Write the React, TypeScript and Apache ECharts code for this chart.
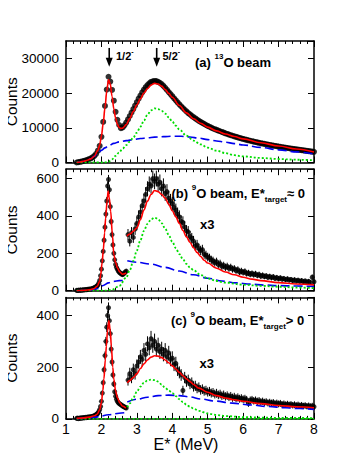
import React, { useEffect, useRef } from "react";
import * as echarts from "echarts";

const FONT = "'Liberation Sans', Arial, Helvetica, sans-serif";

// ---- axes ----
const X_MIN = 1;
const X_MAX = 8;
const Y_MAX = [35000, 650, 470];
const Y_INTERVAL = [10000, 200, 200];
const GRID_TOPS = [41, 169.2, 297.4];

// ---- panel (a): 13O beam ----
const A_X0 = 1.3;
const A_STEP = 0.05;
const A_COUNTS = [
  0, 100, 200, 300, 450, 600, 750, 950, 1200, 1500,
  1900, 2500, 3400, 4800, 7400, 11700, 16300, 21000, 24700, 23300,
  20900, 17800, 14600, 12300, 10800, 9900, 10100, 10700, 11500, 12400,
  13400, 14400, 15400, 16400, 17400, 18400, 19300, 20200, 21000, 21700,
  22300, 22800, 23200, 23400, 23500, 23450, 23250, 22950, 22550, 22050,
  21500, 20900, 20300, 19700, 19100, 18500, 17900, 17300, 16750, 16200,
  15700, 15200, 14700, 14250, 13850, 13450, 13050, 12700, 12350, 12000,
  11700, 11400, 11100, 10800, 10550, 10300, 10050, 9800, 9600, 9400,
  9200, 9000, 8800, 8600, 8400, 8220, 8040, 7870, 7700, 7540,
  7380, 7230, 7080, 6930, 6790, 6650, 6520, 6390, 6260, 6140,
  6020, 5900, 5790, 5680, 5570, 5460, 5360, 5260, 5160, 5060,
  4960, 4870, 4780, 4690, 4600, 4510, 4420, 4340, 4260, 4180,
  4100, 4020, 3940, 3860, 3780, 3700, 3630, 3560, 3490, 3420,
  3350, 3280, 3210, 3140, 3070,
];
const A_FIT = [
  [1.3, 0], [1.4, 150], [1.5, 350], [1.6, 650], [1.7, 1050], [1.8, 1800], [1.9, 3500],
  [1.95, 5000], [2.0, 7600], [2.05, 11300], [2.1, 15800], [2.15, 20500], [2.2, 23900],
  [2.25, 22600], [2.3, 19000], [2.35, 15500], [2.4, 12800], [2.45, 11000], [2.5, 10100],
  [2.55, 9800], [2.6, 9900], [2.7, 10900], [2.8, 12700], [2.9, 14700], [3.0, 16600],
  [3.1, 18400], [3.2, 20000], [3.3, 21300], [3.4, 22300], [3.5, 22800], [3.6, 22600],
  [3.7, 22000], [3.8, 21000], [3.9, 19900], [4.0, 18800], [4.2, 16400], [4.4, 14300],
  [4.6, 12600], [4.8, 11300], [5.0, 10200], [5.25, 9100], [5.5, 8200], [5.75, 7500],
  [6.0, 6800], [6.5, 5700], [7.0, 4750], [7.5, 3900], [8.0, 3050],
];
const A_GREEN = [
  [1.3, 0], [2.1, 0], [2.2, 200], [2.3, 900], [2.4, 1900], [2.5, 2900], [2.6, 4000],
  [2.7, 5000], [2.8, 6000], [2.9, 7200], [3.0, 8600], [3.1, 10300], [3.2, 12100],
  [3.3, 13800], [3.4, 15000], [3.5, 15600], [3.6, 15400], [3.7, 14900], [3.8, 14100],
  [3.9, 13000], [4.0, 11800], [4.1, 10600], [4.2, 9500], [4.4, 7700], [4.6, 6300],
  [4.8, 5200], [5.0, 4300], [5.25, 3400], [5.5, 2700], [5.75, 2100], [6.0, 1750],
  [6.5, 1300], [7.0, 1000], [7.5, 800], [8.0, 650],
];
const A_BLUE = [
  [1.3, 0], [1.5, 300], [1.7, 1100], [1.8, 1800], [1.9, 2700], [2.0, 3500], [2.1, 4200],
  [2.2, 4800], [2.35, 5500], [2.5, 5950], [2.7, 6300], [2.9, 6600], [3.1, 6900],
  [3.3, 7100], [3.5, 7300], [3.75, 7450], [4.0, 7550], [4.25, 7550], [4.5, 7350],
  [4.75, 7000], [5.0, 6600], [5.25, 6200], [5.5, 5850], [5.75, 5450], [6.0, 5050],
  [6.5, 4350], [7.0, 3650], [7.5, 3050], [8.0, 2450],
];
const ARROWS = [
  [2.22, 33000, 27600],
  [3.56, 33000, 27600],
];

// ---- panels (b) and (c): 9O beam ----
const PEAK_X0 = 1.3;
const PEAK_STEP = 0.025;
const TAIL_X0 = 2.75;
const TAIL_STEP = 0.05;
const TAIL_SCALE = 3;

const B_PEAK = [
  2, 1, 3, 2, 3, 2, 4, 3, 5, 4,
  6, 5, 7, 7, 8, 9, 8, 10, 12, 14,
  16, 18, 21, 25, 30, 40, 55, 80, 115, 160,
  210, 270, 340, 410, 480, 560, 595, 540, 450, 370,
  300, 245, 200, 165, 140, 125, 115, 106, 100, 95,
  92, 88, 86, 90, 95, 100, 105,
];
const B_TAIL = [
  300, 265, 310, 285, 330, 360, 395, 420, 455, 480,
  515, 545, 570, 560, 600, 585, 600, 570, 580, 545,
  560, 520, 530, 495, 480, 465, 445, 430, 410, 395,
  370, 365, 340, 320, 315, 290, 280, 265, 240, 245,
  225, 215, 220, 195, 190, 180, 175, 165, 160, 150,
  155, 140, 145, 130, 135, 125, 130, 120, 125, 115,
  118, 108, 112, 100, 105, 98, 102, 92, 95, 88,
  92, 86, 90, 82, 86, 78, 82, 76, 79, 72,
  76, 70, 74, 66, 70, 64, 68, 62, 65, 59,
  63, 57, 60, 54, 58, 52, 56, 50, 54, 48,
  52, 46, 50, 44, 72, 48,
];
const B_FIT1 = [
  [1.3, 0], [1.5, 2], [1.7, 6], [1.8, 12], [1.88, 24], [1.95, 50], [1.98, 86],
  [2.02, 150], [2.05, 211], [2.09, 310], [2.12, 390], [2.16, 480], [2.19, 533],
  [2.22, 500], [2.26, 426], [2.31, 300], [2.35, 193], [2.4, 150], [2.45, 122],
  [2.52, 100], [2.59, 88], [2.65, 90], [2.7, 95],
];
const B_FIT2 = [
  [2.72, 292], [2.8, 303], [2.9, 318], [3.0, 336], [3.1, 380], [3.2, 432], [3.3, 479],
  [3.4, 515], [3.5, 536], [3.6, 530], [3.7, 515], [3.8, 495], [3.9, 462], [4.0, 428],
  [4.1, 395], [4.2, 360], [4.3, 322], [4.4, 288], [4.5, 258], [4.6, 230], [4.7, 205],
  [4.8, 183], [4.9, 163], [5.0, 148], [5.25, 120], [5.5, 100], [5.75, 85], [6.0, 72],
  [6.25, 62], [6.5, 54], [7.0, 43], [7.5, 36], [8.0, 31],
];
const B_GREEN = [
  [1.3, 0], [2.1, 0], [2.3, 5], [2.5, 25], [2.7, 70], [2.8, 110], [2.9, 160],
  [3.0, 215], [3.1, 270], [3.2, 320], [3.3, 358], [3.4, 382], [3.5, 391], [3.6, 383],
  [3.7, 362], [3.8, 332], [3.9, 298], [4.0, 262], [4.1, 228], [4.2, 196], [4.3, 168],
  [4.4, 143], [4.5, 124], [4.6, 110], [4.8, 84], [5.0, 66], [5.25, 52], [5.5, 43],
  [6.0, 32], [6.5, 26], [7.0, 21], [7.5, 17], [8.0, 14],
];
const B_BLUE1 = [
  [1.3, 0], [1.7, 3], [1.9, 12], [2.05, 28], [2.2, 42], [2.35, 50], [2.5, 54], [2.7, 56],
];
const B_BLUE2 = [
  [2.73, 160], [3.0, 152], [3.4, 142], [3.8, 125], [4.2, 105], [4.6, 85], [5.0, 67],
  [5.4, 52], [5.8, 42], [6.2, 35], [6.6, 30], [7.0, 27], [7.5, 25], [8.0, 23],
];

const C_PEAK = [
  2, 3, 1, 3, 2, 4, 3, 4, 5, 4,
  6, 5, 7, 6, 8, 7, 8, 9, 10, 11,
  12, 14, 16, 19, 22, 28, 36, 48, 68, 100,
  140, 190, 245, 300, 355, 400, 430, 380, 330, 270,
  220, 170, 135, 105, 88, 76, 68, 63, 60, 57,
  55, 52, 50, 48, 46, 44, 42,
];
const C_TAIL = [
  150, 175, 160, 190, 175, 205, 220, 240, 230, 265,
  250, 290, 275, 310, 285, 300, 270, 285, 260, 270,
  250, 265, 240, 255, 230, 235, 210, 215, 190, 180,
  170, 110, 160, 145, 150, 135, 140, 125, 128, 118,
  122, 112, 115, 108, 110, 104, 106, 100, 102, 96,
  99, 93, 96, 90, 93, 87, 90, 85, 88, 82,
  85, 80, 83, 78, 80, 76, 78, 74, 60, 72,
  74, 70, 72, 68, 70, 66, 68, 64, 66, 62,
  64, 61, 63, 59, 61, 58, 60, 56, 58, 55,
  57, 54, 56, 53, 55, 52, 54, 51, 53, 50,
  52, 49, 51, 48, 50, 47,
];
const C_FIT1 = [
  [1.3, 2], [1.5, 4], [1.7, 8], [1.8, 12], [1.88, 18], [1.95, 35], [2.0, 63], [2.04, 110],
  [2.07, 154], [2.11, 230], [2.14, 282], [2.17, 340], [2.21, 380], [2.25, 340],
  [2.28, 282], [2.32, 200], [2.35, 154], [2.4, 108], [2.45, 82], [2.52, 62], [2.59, 50],
  [2.69, 42],
];
const C_FIT2 = [
  [2.73, 140], [2.8, 148], [2.9, 160], [3.0, 175], [3.1, 195], [3.2, 213], [3.3, 228],
  [3.4, 239], [3.5, 244], [3.6, 243], [3.7, 237], [3.8, 228], [3.9, 217], [4.0, 205],
  [4.1, 193], [4.2, 180], [4.3, 167], [4.4, 155], [4.5, 144], [4.6, 133], [4.75, 119],
  [5.0, 103], [5.25, 90], [5.5, 81], [5.75, 74], [6.0, 68], [6.5, 59], [7.0, 52],
  [7.5, 47], [8.0, 43],
];
const C_GREEN0 = [[1.3, 0], [8.0, 0]];
const C_GREEN = [
  [2.73, 45], [2.8, 60], [2.9, 82], [3.0, 105], [3.1, 125], [3.2, 140], [3.3, 149],
  [3.4, 152], [3.5, 150], [3.6, 144], [3.7, 133], [3.8, 120], [3.9, 110], [4.0, 100],
  [4.1, 88], [4.2, 76], [4.3, 65], [4.4, 55], [4.5, 47], [4.6, 40], [4.75, 31],
  [5.0, 21], [5.25, 15], [5.5, 11], [6.0, 7], [6.5, 5], [7.0, 4], [8.0, 3],
];
const C_BLUE1 = [[1.3, 0], [1.6, 3], [1.9, 8], [2.2, 16], [2.5, 22], [2.7, 25]];
const C_BLUE2 = [
  [2.73, 65], [3.0, 76], [3.3, 84], [3.6, 90], [3.9, 92], [4.2, 90], [4.5, 85],
  [4.8, 77], [5.2, 69], [5.7, 61], [6.2, 54], [6.7, 48], [7.2, 43], [7.6, 40], [8.0, 37],
];

// ---------------------------------------------------------------
const toPoints = (vals: number[], x0: number, step: number) =>
  vals.map((v, i) => [Number((x0 + i * step).toFixed(3)), v]);

const RED = "#ff0000";
const GREEN = "#00dd00";
const BLUE = "#0000ee";

function axesFor(i: number) {
  const common = {
    axisLine: { show: true, onZero: false, lineStyle: { color: "#000", width: 1.5 } },
    axisTick: { show: true, inside: true, length: 6, lineStyle: { color: "#000", width: 1 } },
    splitLine: { show: false },
  };
  const xBase = {
    type: "value",
    gridIndex: i,
    min: X_MIN,
    max: X_MAX,
    interval: 1,
    ...common,
    minorTick: { show: true, splitNumber: 5, length: 3, lineStyle: { color: "#000", width: 1 } },
  };
  const x = [
    {
      ...xBase,
      position: "bottom",
      axisLabel: {
        show: i === 2,
        color: "#000",
        fontFamily: FONT,
        fontSize: 14,
        margin: 3,
      },
    },
    { ...xBase, position: "top", axisLabel: { show: false } },
  ];
  const yBase = {
    type: "value",
    gridIndex: i,
    min: 0,
    max: Y_MAX[i],
    interval: Y_INTERVAL[i],
    ...common,
  };
  const y = [
    {
      ...yBase,
      position: "left",
      name: "Counts",
      nameLocation: "middle",
      nameRotate: 90,
      nameGap: 47,
      nameMoveOverlap: false,
      nameTextStyle: { fontFamily: FONT, fontSize: 15.5, color: "#000" },
      axisLabel: {
        show: true,
        color: "#000",
        fontFamily: FONT,
        fontSize: 13.5,
        margin: 7,
        showMaxLabel: false,
        formatter: (v: number) => (v % Y_INTERVAL[i] === 0 ? String(v) : ""),
      },
    },
    { ...yBase, position: "right", axisLabel: { show: false } },
  ];
  return { x, y };
}

function lineSeries(i: number, data: number[][], color: string, type: any, width: number, z: number) {
  return {
    type: "line",
    xAxisIndex: 2 * i,
    yAxisIndex: 2 * i,
    data,
    symbol: "none",
    showSymbol: false,
    smooth: 0.35,
    smoothMonotone: "x",
    lineStyle: { color, width, type },
    z,
    silent: true,
  };
}

function pointsSeries(i: number, pts: number[][], size: number) {
  return {
    type: "scatter",
    xAxisIndex: 2 * i,
    yAxisIndex: 2 * i,
    data: pts,
    symbol: "circle",
    symbolSize: size,
    itemStyle: { color: "#000" },
    z: 2,
    silent: true,
  };
}

function errorSeries(i: number, pts: number[][]) {
  return {
    type: "custom",
    xAxisIndex: 2 * i,
    yAxisIndex: 2 * i,
    data: pts,
    encode: { x: 0, y: 1 },
    z: 2,
    silent: true,
    renderItem: (_p: any, api: any) => {
      const x = api.value(0);
      const y = api.value(1);
      const e = api.value(2);
      const lo = api.coord([x, Math.max(0, y - e)]);
      const hi = api.coord([x, y + e]);
      return {
        type: "line",
        shape: { x1: lo[0], y1: lo[1], x2: hi[0], y2: hi[1] },
        style: { stroke: "#000", lineWidth: 1 },
      };
    },
  };
}

function withErrors(peak: number[][], tail: number[][]) {
  const p = peak.map(([x, y]) => [x, y, Math.sqrt(Math.max(y, 1))]);
  const t = tail.map(([x, y]) => [x, y, Math.sqrt(Math.max(y, 1) * TAIL_SCALE)]);
  return p.concat(t);
}

export default function App() {
  const ref = useRef<HTMLDivElement>(null);

  useEffect(() => {
    if (!ref.current) return;
    const chart = echarts.init(ref.current, undefined, { renderer: "svg" });

    const xAxes: any[] = [];
    const yAxes: any[] = [];
    [0, 1, 2].forEach((i) => {
      const a = axesFor(i);
      xAxes.push(...a.x);
      yAxes.push(...a.y);
    });

    const aPts = toPoints(A_COUNTS, A_X0, A_STEP);
    const bPts = withErrors(toPoints(B_PEAK, PEAK_X0, PEAK_STEP), toPoints(B_TAIL, TAIL_X0, TAIL_STEP));
    const cPts = withErrors(toPoints(C_PEAK, PEAK_X0, PEAK_STEP), toPoints(C_TAIL, TAIL_X0, TAIL_STEP));

    const dashed = [9, 4];
    const dotted = [2, 2];

    const series: any[] = [
      // panel a
      pointsSeries(0, aPts, 6),
      lineSeries(0, A_BLUE, BLUE, dashed, 1.6, 3),
      lineSeries(0, A_GREEN, GREEN, dotted, 1.8, 3),
      lineSeries(0, A_FIT, RED, "solid", 1.6, 4),
      {
        type: "custom",
        xAxisIndex: 0,
        yAxisIndex: 0,
        data: ARROWS,
        encode: { x: 0, y: [1, 2] },
        z: 5,
        silent: true,
        renderItem: (_p: any, api: any) => {
          const x = api.value(0);
          const top = api.coord([x, api.value(1)]);
          const tip = api.coord([x, api.value(2)]);
          return {
            type: "group",
            children: [
              {
                type: "line",
                shape: { x1: top[0], y1: top[1], x2: tip[0], y2: tip[1] - 7 },
                style: { stroke: "#000", lineWidth: 1.6 },
              },
              {
                type: "polygon",
                shape: {
                  points: [
                    [tip[0] - 3.5, tip[1] - 9],
                    [tip[0] + 3.5, tip[1] - 9],
                    [tip[0], tip[1]],
                  ],
                },
                style: { fill: "#000" },
              },
            ],
          };
        },
      },
      // panel b
      errorSeries(1, bPts),
      pointsSeries(1, bPts, 5),
      lineSeries(1, B_BLUE1, BLUE, dashed, 1.6, 3),
      lineSeries(1, B_BLUE2, BLUE, dashed, 1.6, 3),
      lineSeries(1, B_GREEN, GREEN, dotted, 1.8, 3),
      lineSeries(1, B_FIT1, RED, "solid", 1.6, 4),
      lineSeries(1, B_FIT2, RED, "solid", 1.6, 4),
      // panel c
      errorSeries(2, cPts),
      pointsSeries(2, cPts, 5),
      lineSeries(2, C_BLUE1, BLUE, dashed, 1.6, 3),
      lineSeries(2, C_BLUE2, BLUE, dashed, 1.6, 3),
      lineSeries(2, C_GREEN0, GREEN, dotted, 1.8, 3),
      lineSeries(2, C_GREEN, GREEN, dotted, 1.8, 3),
      lineSeries(2, C_FIT1, RED, "solid", 1.6, 4),
      lineSeries(2, C_FIT2, RED, "solid", 1.6, 4),
    ];

    const rich = {
      m: { fontFamily: FONT, fontSize: 13, fontWeight: "bold", color: "#000", lineHeight: 20, verticalAlign: "middle" },
      sup: { fontFamily: FONT, fontSize: 8, fontWeight: "bold", color: "#000", lineHeight: 13, verticalAlign: "top" },
      sub: { fontFamily: FONT, fontSize: 8, fontWeight: "bold", color: "#000", lineHeight: 10, verticalAlign: "bottom" },
      s: { fontFamily: FONT, fontSize: 11, fontWeight: "bold", color: "#000", lineHeight: 16, verticalAlign: "middle" },
      ss: { fontFamily: FONT, fontSize: 7, fontWeight: "bold", color: "#000", lineHeight: 10, verticalAlign: "top" },
    };

    const txt = (x: number, y: number, text: string) => ({
      type: "text",
      x,
      y,
      silent: true,
      style: { text, rich, align: "left", verticalAlign: "middle" },
    });

    chart.setOption({
      animation: false,
      backgroundColor: "#fff",
      grid: GRID_TOPS.map((top) => ({
        left: 66,
        top,
        width: 248,
        height: 121.5,
        containLabel: false,
        outerBoundsMode: "none",
      })),
      xAxis: xAxes,
      yAxis: yAxes,
      series,
      graphic: [
        {
          type: "text",
          x: 186,
          y: 444,
          silent: true,
          style: {
            text: "E* (MeV)",
            fontFamily: FONT,
            fontSize: 16,
            fill: "#000",
            align: "center",
            verticalAlign: "middle",
          },
        },
        txt(195, 62, "{m|(a) }{sup|13}{m|O beam}"),
        txt(171.5, 193, "{m|(b) }{sup|9}{m|O beam, E*}{sub|target}{m|≈ 0}"),
        txt(171, 320.5, "{m|(c) }{sup|9}{m|O beam, E*}{sub|target}{m|> 0}"),
        txt(200, 224, "{m|x3}"),
        txt(199.5, 363, "{m|x3}"),
        txt(116, 56, "{s|1/2}{ss|-}"),
        txt(162.5, 56, "{s|5/2}{ss|-}"),
      ],
    });

    return () => chart.dispose();
  }, []);

  return <div ref={ref} style={{ width: 357, height: 462, margin: -8 }} />;
}
